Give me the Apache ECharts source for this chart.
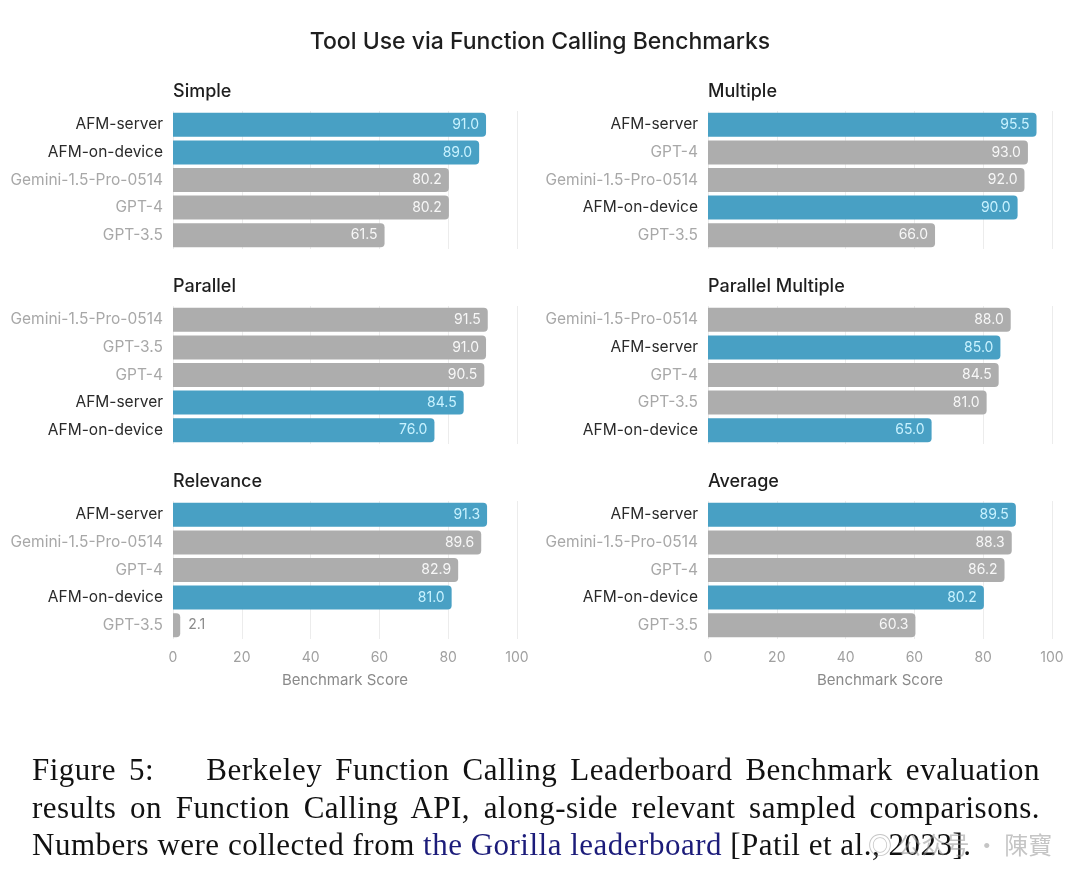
<!DOCTYPE html>
<html>
<head>
<meta charset="utf-8">
<script src="https://cdn.jsdelivr.net/npm/echarts@6/dist/echarts.min.js"></script>
<style>
  html, body { margin: 0; padding: 0; background: #fff; }
  #wrap { position: relative; width: 1080px; height: 882px; overflow: hidden; }
  #chart { position: absolute; left: 0; top: 0; width: 1080px; height: 882px; }
  #caption { position: absolute; left: 32px; top: 751px; width: 1008px;
    font-family: "Liberation Serif", "DejaVu Serif", serif; font-size: 31px; letter-spacing: 0.5px;
    color: #111; line-height: 37.5px; }
  #caption div { text-align: justify; text-align-last: justify; white-space: nowrap; }
  #caption div.last { text-align-last: left; }
  #caption .link { color: #1c1c7a; }
  #wm { position: absolute; left: 868px; top: 826px; font-family: "Noto Sans CJK SC", sans-serif;
    font-size: 24px; color: rgba(150,150,150,0.55); }
</style>
</head>
<body>
<div id="wrap">
  <div id="chart"></div>
  <div id="caption">
    <div>Figure 5:&nbsp;&nbsp;&nbsp; Berkeley Function Calling Leaderboard Benchmark evaluation</div>
    <div>results on Function Calling API, along-side relevant sampled comparisons.</div>
    <div class="last">Numbers were collected from <span class="link">the Gorilla leaderboard</span> [Patil et al., 2023].</div>
  </div>
  <div id="wm">◎ 公众号 · 陳寶</div>
</div>
<script>
const mainTitle = "Tool Use via Function Calling Benchmarks";
const axisName = "Benchmark Score";
const xTicks = [0, 20, 40, 60, 80, 100];

const simpleCats = ["AFM-server", "AFM-on-device", "Gemini-1.5-Pro-0514", "GPT-4", "GPT-3.5"];
const simpleVals = [91.0, 89.0, 80.2, 80.2, 61.5];

const multipleCats = ["AFM-server", "GPT-4", "Gemini-1.5-Pro-0514", "AFM-on-device", "GPT-3.5"];
const multipleVals = [95.5, 93.0, 92.0, 90.0, 66.0];

const parallelCats = ["Gemini-1.5-Pro-0514", "GPT-3.5", "GPT-4", "AFM-server", "AFM-on-device"];
const parallelVals = [91.5, 91.0, 90.5, 84.5, 76.0];

const parMultCats = ["Gemini-1.5-Pro-0514", "AFM-server", "GPT-4", "GPT-3.5", "AFM-on-device"];
const parMultVals = [88.0, 85.0, 84.5, 81.0, 65.0];

const relevanceCats = ["AFM-server", "Gemini-1.5-Pro-0514", "GPT-4", "AFM-on-device", "GPT-3.5"];
const relevanceVals = [91.3, 89.6, 82.9, 81.0, 2.1];

const averageCats = ["AFM-server", "Gemini-1.5-Pro-0514", "GPT-4", "AFM-on-device", "GPT-3.5"];
const averageVals = [89.5, 88.3, 86.2, 80.2, 60.3];

const panels = [
  { title: "Simple", cats: simpleCats, vals: simpleVals },
  { title: "Multiple", cats: multipleCats, vals: multipleVals },
  { title: "Parallel", cats: parallelCats, vals: parallelVals },
  { title: "Parallel Multiple", cats: parMultCats, vals: parMultVals },
  { title: "Relevance", cats: relevanceCats, vals: relevanceVals },
  { title: "Average", cats: averageCats, vals: averageVals }
];

const FONT = "Inter, 'Noto Sans', sans-serif";
const BLUE = "#48a0c4";
const GRAY = "#adadad";
const colLeft = [173, 708];
const plotW = 344;
const rowTop = [111, 306, 501];
const plotH = 138;

const grids = [], xAxes = [], yAxes = [], series = [], titles = [];
panels.forEach((p, i) => {
  const col = i % 2, row = Math.floor(i / 2);
  const isBottom = row === 2;
  grids.push({ left: colLeft[col], top: rowTop[row], width: plotW, height: plotH, containLabel: false });
  titles.push({
    text: p.title, left: colLeft[col], top: rowTop[row] - 28, padding: 0,
    textStyle: { fontFamily: FONT, fontSize: 18, fontWeight: 500, color: "#1e1e1e" }
  });
  xAxes.push({
    type: "value", gridIndex: i, min: 0, max: 100, interval: 20,
    axisLine: { show: false }, axisTick: { show: false },
    splitLine: { show: true, lineStyle: { color: "#ececec", width: 1 } },
    axisLabel: { show: isBottom, color: "#a0a0a0", fontFamily: FONT, fontSize: 14, margin: 12 },
    name: isBottom ? axisName : "", nameLocation: "middle", nameGap: 34,
    nameTextStyle: { color: "#8a8a8a", fontFamily: FONT, fontSize: 15 }
  });
  yAxes.push({
    type: "category", gridIndex: i, data: p.cats, inverse: true,
    axisLine: { show: false }, axisTick: { show: false },
    axisLabel: {
      margin: 10, fontFamily: FONT, fontSize: 15.5,
      formatter: v => v.startsWith("AFM") ? "{a|" + v + "}" : "{b|" + v + "}",
      rich: {
        a: { color: "#2a2a2a", fontFamily: FONT, fontSize: 15.5 },
        b: { color: "#a8a8a8", fontFamily: FONT, fontSize: 15.5 }
      }
    }
  });
  series.push({
    type: "bar", xAxisIndex: i, yAxisIndex: i, barWidth: 24,
    data: p.vals.map((v, k) => {
      const afm = p.cats[k].startsWith("AFM");
      const small = v < 10;
      return {
        value: v,
        itemStyle: { color: afm ? BLUE : GRAY, borderRadius: [0, 4, 4, 0] },
        label: {
          show: true, position: small ? "right" : "insideRight", distance: small ? 8 : 7,
          formatter: d => d.value.toFixed(1),
          color: small ? "#8a8a8a" : (afm ? "#c8f2ff" : "#f7f7f7"),
          fontFamily: FONT, fontSize: 14
        }
      };
    })
  });
});

titles.unshift({
  text: mainTitle, left: "center", top: 31, padding: 0,
  textStyle: { fontFamily: FONT, fontSize: 23, fontWeight: 500, color: "#1e1e1e" }
});

const chart = echarts.init(document.getElementById("chart"), null, { renderer: "canvas" });
chart.setOption({
  animation: false,
  backgroundColor: "#ffffff",
  title: titles,
  grid: grids,
  xAxis: xAxes,
  yAxis: yAxes,
  series: series
});
</script>
</body>
</html>
